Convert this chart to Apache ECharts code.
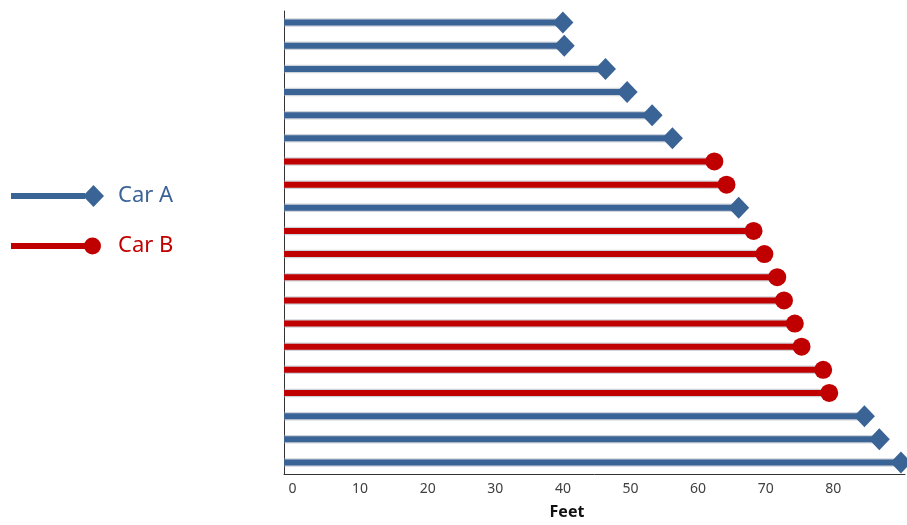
<!DOCTYPE html>
<html>
<head>
<meta charset="utf-8">
<script src="https://cdn.jsdelivr.net/npm/echarts@6/dist/echarts.min.js"></script>
<style>html,body{margin:0;padding:0;background:#fff;}#chart{width:907px;height:525px;}</style>
</head>
<body>
<div id="chart"></div>
<script>
// Data (rows from top to bottom)
var categories = ['1','2','3','4','5','6','7','8','9','10','11','12','13','14','15','16','17','18','19','20'];
var carA = [40.0, 40.2, 46.3, 49.5, 53.2, 56.2, null, null, 66.0, null, null, null, null, null, null, null, null, 84.6, 86.8, 90.0];
var carB = [null, null, null, null, null, null, 62.4, 64.2, null, 68.2, 69.8, 71.7, 72.7, 74.3, 75.3, 78.5, 79.4, null, null, null];
var tickLabels = [0, 10, 20, 30, 40, 50, 60, 70, 80];

var BLUE = '#3A6396', RED = '#C00000';
var X_MIN = -1.25, X_MAX = 90.6;

function toPairs(arr) {
  var out = [];
  arr.forEach(function (v, i) { if (v !== null) out.push([v, i]); });
  return out;
}

function stemSeries(name, arr, color) {
  return {
    name: name,
    type: 'custom',
    data: toPairs(arr),
    encode: { x: 0, y: 1 },
    z: 2,
    renderItem: function (params, api) {
      var idx = api.value(1);
      var p0 = api.coord([X_MIN, idx]);
      var p1 = api.coord([api.value(0), idx]);
      return {
        type: 'group',
        children: [
          { type: 'line', shape: { x1: p0[0], y1: p0[1], x2: p1[0], y2: p1[1] },
            style: { stroke: 'rgba(160,168,182,0.5)', lineWidth: 8.5 } },
          { type: 'line', shape: { x1: p0[0], y1: p0[1], x2: p1[0], y2: p1[1] },
            style: { stroke: color, lineWidth: 6 } }
        ]
      };
    }
  };
}

// icon boxes are 93 x 22; tiny corner specks fix the bounding box so shapes are not stretched
var diamondIcon = 'path://M0,8 L74,8 L74,14 L0,14 Z M72,11 L82.5,0 L93,11 L82.5,22 Z';
var circleIcon = 'path://M0,0 L0.01,0 L0,0.01 Z M0,22 L0.01,22 L0,21.99 Z M0,8 L76,8 L76,14 L0,14 Z M73,11 A8.5,8.5 0 1,1 90,11 A8.5,8.5 0 1,1 73,11 Z M93,0 L92.99,0 L93,0.01 Z';

var chart = echarts.init(document.getElementById('chart'));
chart.setOption({
  animation: false,
  textStyle: { fontFamily: 'Noto Sans' },
  grid: { left: 284, right: 2, top: 11, bottom: 50, containLabel: false },
  legend: {
    orient: 'vertical',
    left: 11,
    top: 185,
    padding: 0,
    itemWidth: 93,
    itemHeight: 22,
    itemGap: 28,
    selectedMode: false,
    textStyle: { fontSize: 22, fontFamily: 'Noto Sans', padding: [0, 0, 0, 9] },
    data: [
      { name: 'Car A', icon: diamondIcon, itemStyle: { color: BLUE }, textStyle: { color: BLUE } },
      { name: 'Car B', icon: circleIcon, itemStyle: { color: RED }, textStyle: { color: RED } }
    ]
  },
  xAxis: {
    type: 'value',
    min: X_MIN,
    max: X_MAX,
    axisLine: { show: true, onZero: false, lineStyle: { color: '#333', width: 1 } },
    axisTick: { show: false },
    splitLine: { show: false },
    axisLabel: { customValues: tickLabels, color: '#404040', fontSize: 14, margin: 8, fontFamily: 'Noto Sans' },
    name: 'Feet',
    nameLocation: 'middle',
    nameGap: 30,
    nameTextStyle: { fontWeight: 'bold', fontSize: 16, color: '#111', fontFamily: 'Noto Sans', padding: [0, 55, 0, 0] }
  },
  yAxis: {
    type: 'category',
    data: categories,
    inverse: true,
    axisLine: { show: true, onZero: false, lineStyle: { color: '#333', width: 1 } },
    axisTick: { show: false },
    axisLabel: { show: false },
    splitLine: { show: false }
  },
  series: [
    stemSeries('Car A', carA, BLUE),
    stemSeries('Car B', carB, RED),
    {
      name: 'Car A', type: 'scatter', data: toPairs(carA), encode: { x: 0, y: 1 },
      symbol: 'diamond', symbolSize: [21, 22], clip: false, z: 3,
      itemStyle: { color: BLUE, opacity: 1 }
    },
    {
      name: 'Car B', type: 'scatter', data: toPairs(carB), encode: { x: 0, y: 1 },
      symbol: 'circle', symbolSize: 18, clip: false, z: 3,
      itemStyle: { color: RED, opacity: 1 }
    }
  ]
});
</script>
</body>
</html>
